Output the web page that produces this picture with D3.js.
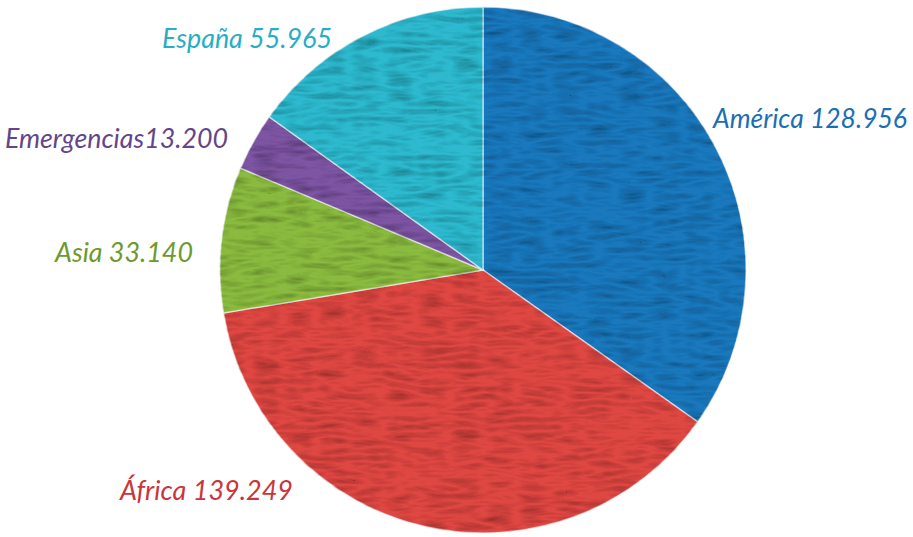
<!DOCTYPE html>
<html><head><meta charset="utf-8">
<script src="https://cdn.jsdelivr.net/npm/d3@7"></script>
<style>body{margin:0;background:#fff}svg{display:block}</style>
</head><body>
<script>
const categories = ["América", "África", "Asia", "Emergencias", "España"];
const values = [128956, 139249, 33140, 13200, 55965];
const valueLabels = ["128.956", "139.249", "33.140", "13.200", "55.965"];
const separators = [" ", " ", " ", "", " "];
const sliceColors = ["#1e78bd", "#de4743", "#8abb3f", "#7d54a3", "#2fb9cf"];
const textColors = ["#1a6fb4", "#c9353a", "#6c9a2c", "#644589", "#27aec7"];

const W = 913, H = 537;
const cx = 483, cy = 270, R = 263;
// label layout: [x, y baseline, width]
const labelLayout = [[713, 128, 194], [120, 500, 173], [55, 262, 138], [5, 148, 223], [162, 48, 170]];

const svg = d3.select("body").append("svg").attr("width", W).attr("height", H);
const defs = svg.append("defs");
const f = defs.append("filter").attr("id", "tex").attr("x", "-5%").attr("y", "-5%").attr("width", "110%").attr("height", "110%");
f.append("feTurbulence").attr("type", "turbulence").attr("baseFrequency", "0.03 0.13").attr("numOctaves", 2).attr("seed", 5).attr("result", "noise");
f.append("feColorMatrix").attr("in", "noise").attr("type", "matrix")
  .attr("values", "0 0 0 0 0  0 0 0 0 0  0 0 0 0 0  0.75 0 0 0 -0.1").attr("result", "dark");
f.append("feComposite").attr("in", "dark").attr("in2", "SourceGraphic").attr("operator", "in").attr("result", "darkIn");
f.append("feMerge").call(m => { m.append("feMergeNode").attr("in", "SourceGraphic"); m.append("feMergeNode").attr("in", "darkIn"); });

const pie = d3.pie().sort(null).value(d => d)(values);
const arc = d3.arc().innerRadius(0).outerRadius(R);

const g = svg.append("g").attr("transform", `translate(${cx},${cy})`);
g.selectAll("path").data(pie).join("path")
  .attr("d", arc)
  .attr("fill", (d, i) => sliceColors[i])
  .attr("stroke", "rgba(255,255,255,0.55)")
  .attr("stroke-width", 1.5)
  .attr("filter", "url(#tex)");

svg.selectAll("text.lbl").data(categories).join("text")
  .attr("class", "lbl")
  .attr("x", (d, i) => labelLayout[i][0])
  .attr("y", (d, i) => labelLayout[i][1])
  .attr("textLength", (d, i) => labelLayout[i][2])
  .attr("lengthAdjust", "spacingAndGlyphs")
  .attr("fill", (d, i) => textColors[i])
  .style("font-family", "Lato, 'Open Sans', sans-serif")
  .style("font-style", "italic")
  .style("font-size", "27px")
  .text((d, i) => d + separators[i] + valueLabels[i]);
</script>
</body></html>
